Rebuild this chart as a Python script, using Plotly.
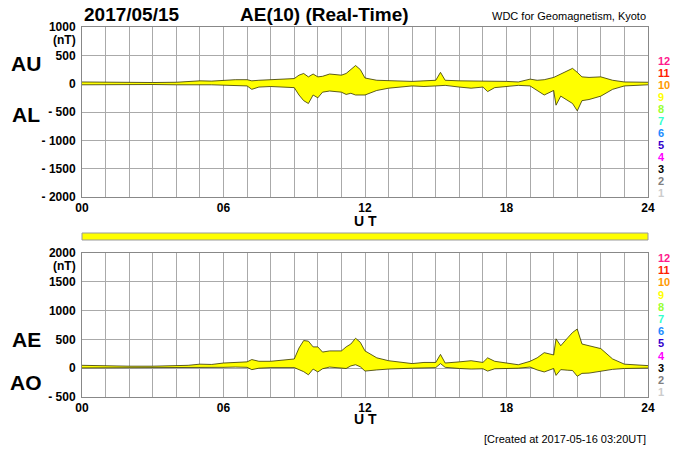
import numpy as np
import plotly.graph_objects as go

# hourly UT nodes
ut = [0, 1, 2, 3, 4, 4.5, 5, 5.5, 6, 6.5, 7, 7.2, 7.5, 8, 8.5, 9, 9.2, 9.4, 9.6, 9.8,
      10, 10.2, 10.5, 11, 11.2, 11.4, 11.6, 11.8, 12, 12.5, 13, 14, 14.5, 15, 15.2, 15.4,
      16, 16.5, 17, 17.2, 17.5, 18, 18.5, 19, 19.3, 19.6, 20, 20.1, 20.3, 20.6, 20.8,
      21, 21.2, 21.5, 22, 22.5, 23, 24]
au = [30, 25, 20, 20, 25, 35, 50, 45, 60, 70, 70, 50, 60, 70, 80, 90, 150, 180, 120, 170,
      120, 130, 170, 150, 180, 250, 320, 250, 100, 60, 50, 40, 50, 60, 200, 60,
      50, 50, 40, 40, 50, 40, 30, 80, 60, 70, 110, 130, 170, 230, 270,
      200, 120, 110, 120, 60, 30, 25]
al = [-20, -15, -15, -15, -20, -15, -20, -20, -30, -30, -40, -100, -60, -50, -60, -70, -200, -300, -350, -200,
      -250, -150, -130, -150, -190, -170, -200, -200, -200, -120, -80, -40, -50, -40, -40, -30,
      -60, -80, -60, -140, -70, -50, -30, -40, -120, -200, -120, -380, -220, -300, -350,
      -480, -300, -280, -220, -100, -40, -20]

ae = np.array(au) - np.array(al)
ao = (np.array(au) + np.array(al)) / 2

num_labels = [str(i) for i in range(12, 0, -1)]
num_colors = ["#ff1a8c", "#ff2000", "#ff9900", "#ffff00", "#99ff33", "#33ffcc",
              "#1a8cff", "#3300cc", "#ff00ff", "#000000", "#808080", "#cccccc"]

FONT = "Liberation Sans"
fig = go.Figure()

line = dict(color="#333300", width=0.8)
fig.add_trace(go.Scatter(x=ut, y=au, mode="lines", line=line, xaxis="x", yaxis="y"))
fig.add_trace(go.Scatter(x=ut, y=al, mode="lines", line=line, fill="tonexty",
                         fillcolor="#ffff00", xaxis="x", yaxis="y"))
fig.add_trace(go.Scatter(x=ut, y=ae, mode="lines", line=line, xaxis="x2", yaxis="y2"))
fig.add_trace(go.Scatter(x=ut, y=ao, mode="lines", line=line, fill="tonexty",
                         fillcolor="#ffff00", xaxis="x2", yaxis="y2"))

xdom = [82 / 700, 648 / 700]
hours = list(range(25))
hour_text = [("<b>%02d</b>" % h) if h % 6 == 0 else "" for h in hours]
tfont = dict(family=FONT, size=12, color="black")
xax = dict(domain=xdom, range=[0, 24], tickvals=hours, ticktext=hour_text,
           showgrid=True, gridcolor="#aaaaaa", gridwidth=1, zeroline=False,
           showline=True, linecolor="#888888", mirror=True, ticks="",
           automargin=False, tickfont=tfont, fixedrange=True, ticklabelstandoff=0)
yax = dict(showgrid=True, gridcolor="#aaaaaa", zeroline=False, showline=True,
           linecolor="#888888", mirror=True, ticks="", automargin=False,
           tickfont=tfont, ticklabelstandoff=3, fixedrange=True)

fig.update_layout(
    width=700, height=450, margin=dict(l=0, r=0, t=0, b=0, autoexpand=False),
    paper_bgcolor="white", plot_bgcolor="white", showlegend=False,
    xaxis=dict(xax, anchor="y"),
    xaxis2=dict(xax, anchor="y2"),
    yaxis=dict(yax, domain=[1 - 197 / 450, 1 - 27 / 450], range=[-2000, 1000], anchor="x",
               tickvals=[-2000, -1500, -1000, -500, 0, 500, 1000],
               ticktext=["<b>- 2000</b>", "<b>- 1500</b>", "<b>- 1000</b>", "<b>- 500</b>",
                         "<b>0</b>", "<b>500</b>", "<b>1000</b>"]),
    yaxis2=dict(yax, domain=[1 - 397 / 450, 1 - 253 / 450], range=[-500, 2000], anchor="x2",
                tickvals=[-500, 0, 500, 1000, 1500, 2000],
                ticktext=["<b>- 500</b>", "<b>0</b>", "<b>500</b>", "<b>1000</b>",
                          "<b>1500</b>", "<b>2000</b>"]),
)

ann = []
def txt(x, y, s, size, color="black", xanchor="center"):
    ann.append(dict(x=x / 700, y=1 - y / 450, xref="paper", yref="paper", text=s,
                    showarrow=False, xanchor=xanchor, yanchor="middle",
                    font=dict(family=FONT, size=size, color=color)))

txt(82, 15, "<b>2017/05/15</b>", 19, xanchor="left")
txt(324, 15, "<b>AE(10) (Real-Time)</b>", 19)
txt(648, 16, "WDC for Geomagnetism, Kyoto", 11, xanchor="right")
txt(78, 40, "<b>(nT)</b>", 12, xanchor="right")
txt(78, 266, "<b>(nT)</b>", 12, xanchor="right")
txt(26, 63, "<b>AU</b>", 21)
txt(26, 115, "<b>AL</b>", 21)
txt(26, 339, "<b>AE</b>", 21)
txt(26, 382, "<b>AO</b>", 21)
txt(365, 221, "<b>U T</b>", 14)
txt(365, 419, "<b>U T</b>", 14)
txt(648, 439, "[Created at 2017-05-16 03:20UT]", 11, xanchor="right")
for i, (lab, col) in enumerate(zip(num_labels, num_colors)):
    txt(656, 61 + i * 12, "<b>%s</b>" % lab, 11, color=col, xanchor="left")
    txt(656, 258 + i * 12.2, "<b>%s</b>" % lab, 11, color=col, xanchor="left")
fig.update_layout(annotations=ann)

fig.add_shape(type="rect", xref="paper", yref="paper",
              x0=82 / 700, x1=648 / 700, y0=1 - 240 / 450, y1=1 - 233 / 450,
              fillcolor="#ffff00", line=dict(color="#999999", width=1))

fig.write_html("out.html", config={"displayModeBar": False},
               post_script="document.body.style.margin='0';document.body.style.overflow='hidden';")
